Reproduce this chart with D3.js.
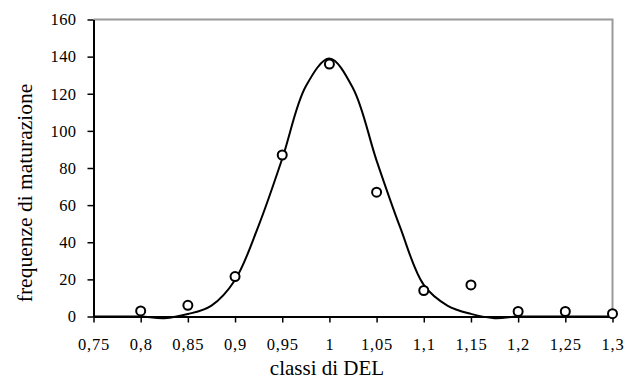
<!DOCTYPE html>
<html>
<head>
<meta charset="utf-8">
<script src="https://cdn.jsdelivr.net/npm/d3@7"></script>
<style>
  body { margin: 0; background: #fff; }
  text { font-family: "Liberation Serif", "Times New Roman", serif; fill: #000; }
</style>
</head>
<body>
<svg id="chart" width="633" height="380"></svg>
<script>
// observed frequencies per class
const classes = [0.8, 0.85, 0.9, 0.95, 1.0, 1.05, 1.1, 1.15, 1.2, 1.25, 1.3];
const observed = [3, 6, 21.5, 87, 136, 67, 14, 17, 2.7, 2.7, 1.5];

// fitted curve
const fitX = [0.75, 0.775, 0.8, 0.825, 0.85, 0.875, 0.9, 0.925, 0.95, 0.975, 1.0,
  1.025, 1.05, 1.075, 1.1, 1.125, 1.15, 1.175, 1.2, 1.225, 1.25, 1.275, 1.3];
const fitY = [0, 0, 0, -0.9, 1.3, 5.9, 19.7, 49, 85, 124, 139,
  123, 84, 48, 17, 5.9, 1.4, -0.9, 0, 0, 0, 0, 0];

const xTicks = [0.75, 0.8, 0.85, 0.9, 0.95, 1, 1.05, 1.1, 1.15, 1.2, 1.25, 1.3];
const yTicks = [0, 20, 40, 60, 80, 100, 120, 140, 160];

const svg = d3.select("#chart");
const mLeft = 93.5, mRight = 612.5, mTop = 19.5, mBottom = 316.5;

const x = d3.scaleLinear().domain([0.75, 1.3]).range([mLeft, mRight]);
const y = d3.scaleLinear().domain([0, 160]).range([mBottom, mTop]);

const fmt = (d) => String(d).replace(".", ",");

// frame: grey top and right
svg.append("path")
  .attr("d", `M${mLeft},${mTop}H${mRight}V${mBottom}`)
  .attr("fill", "none")
  .attr("stroke", "#9a9a9a")
  .attr("stroke-width", 2);

// y axis
const yAxis = svg.append("g")
  .attr("transform", `translate(${mLeft},0)`)
  .call(d3.axisLeft(y).tickValues(yTicks).tickSize(6).tickSizeOuter(0).tickPadding(11));
yAxis.select(".domain").attr("stroke", "#000").attr("stroke-width", 2);
yAxis.selectAll(".tick line").attr("stroke", "#000").attr("stroke-width", 1.5);
yAxis.selectAll("text").style("font-size", "16.5px").style("letter-spacing", "0.4px").attr("fill", "#000");

// x axis
const xAxis = svg.append("g")
  .attr("transform", `translate(0,${mBottom})`)
  .call(d3.axisBottom(x).tickValues(xTicks).tickFormat(fmt).tickSize(6).tickSizeOuter(0).tickPadding(16));
xAxis.select(".domain").attr("stroke", "#000").attr("stroke-width", 2);
xAxis.selectAll(".tick line").attr("stroke", "#000").attr("stroke-width", 1.5);
xAxis.selectAll("text").style("font-size", "16.5px").style("letter-spacing", "0.8px").attr("fill", "#000");

// fitted curve
const line = d3.line()
  .x((d, i) => x(fitX[i]))
  .y((d) => y(d))
  .curve(d3.curveCatmullRom.alpha(0.5));

svg.append("path")
  .datum(fitY)
  .attr("d", line)
  .attr("fill", "none")
  .attr("stroke", "#000")
  .attr("stroke-width", 2);

// observed points
svg.append("g")
  .selectAll("circle")
  .data(observed)
  .join("circle")
  .attr("cx", (d, i) => x(classes[i]))
  .attr("cy", (d) => y(d))
  .attr("r", 4.5)
  .attr("fill", "#fff")
  .attr("stroke", "#000")
  .attr("stroke-width", 2);

// axis titles
svg.append("text")
  .attr("x", 327)
  .attr("y", 375)
  .attr("text-anchor", "middle")
  .style("font-size", "21px")
  .text("classi di DEL");

svg.append("text")
  .attr("transform", `translate(32,${(mTop + mBottom) / 2 + 25}) rotate(-90)`)
  .attr("text-anchor", "middle")
  .style("font-size", "21.5px")
  .text("frequenze di maturazione");
</script>
</body>
</html>
